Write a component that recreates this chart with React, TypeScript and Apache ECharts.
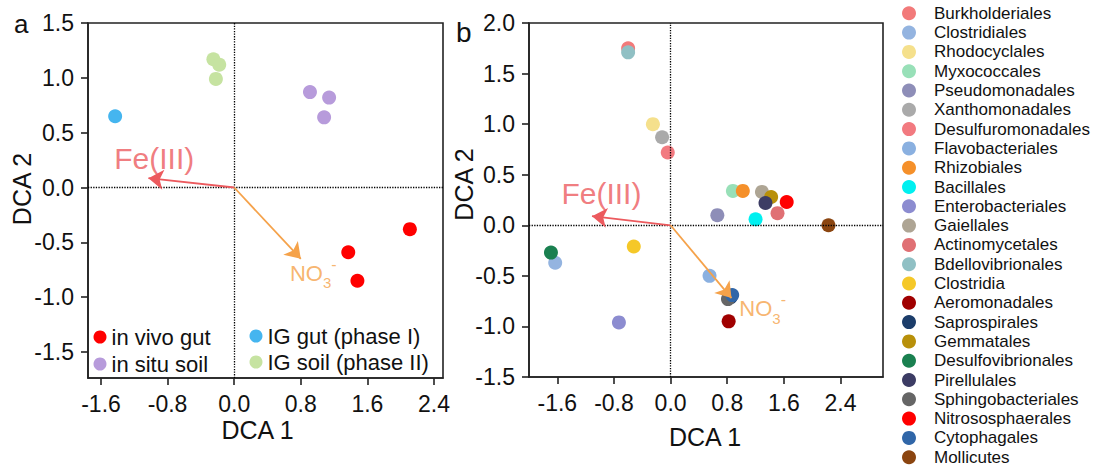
import { useEffect, useRef } from 'react';
import * as echarts from 'echarts';

const FONT = "'Liberation Sans', Arial, Helvetica, sans-serif";
const INK = '#111111';
const AXIS = '#222222';
const FE_COLOR = '#ec5a5e';
const NO_COLOR = '#f5a24a';

// ---------- Panel a ----------
const groupNamesA = ['in vivo gut', 'in situ soil', 'IG gut (phase I)', 'IG soil (phase II)'];
const groupColorsA = ['#ff0000', '#b79bdb', '#45b5ef', '#c6e3a1'];
const inVivoGut = [[2.11, -0.38], [1.37, -0.59], [1.48, -0.85]];
const inSituSoil = [[0.91, 0.87], [1.14, 0.82], [1.08, 0.64]];
const igGut = [[-1.43, 0.65]];
const igSoil = [[-0.25, 1.17], [-0.18, 1.12], [-0.22, 0.99]];
const groupDataA = [inVivoGut, inSituSoil, igGut, igSoil];
const xTicksA = [-1.6, -0.8, 0, 0.8, 1.6, 2.4];
const yTicksA = [-1.5, -1, -0.5, 0, 0.5, 1, 1.5];
const xRangeA = [-1.756, 2.508];
const yRangeA = [-1.737, 1.5];
const arrowFeA = [-1.03, 0.085];
const arrowNoA = [0.8, -0.65];
const labelFeA = [-0.96, 0.265];
const labelNoA = [0.95, -0.78];

// ---------- Panel b ----------
const ordersB = [
  'Burkholderiales', 'Clostridiales', 'Rhodocyclales', 'Myxococcales', 'Pseudomonadales',
  'Xanthomonadales', 'Desulfuromonadales', 'Flavobacteriales', 'Rhizobiales', 'Bacillales',
  'Enterobacteriales', 'Gaiellales', 'Actinomycetales', 'Bdellovibrionales', 'Clostridia',
  'Aeromonadales', 'Saprospirales', 'Gemmatales', 'Desulfovibrionales', 'Pirellulales',
  'Sphingobacteriales', 'Nitrososphaerales', 'Cytophagales', 'Mollicutes',
];
const orderColorsB = [
  '#f27a7a', '#94b4e0', '#f5e08c', '#98e0b8', '#8e8eb8',
  '#aaaaaa', '#f27a80', '#8ab0e0', '#f5902a', '#00f0f0',
  '#8c8cd0', '#aea594', '#e07074', '#90c0c4', '#f5c828',
  '#a00000', '#1c3d6a', '#b8900a', '#1a8050', '#3c3c64',
  '#666666', '#ff0000', '#3066a8', '#8b4510',
];
const orderXB = [
  -0.6, -1.63, -0.25, 0.88, 0.66,
  -0.12, -0.04, 0.55, 1.02, 1.2,
  -0.73, 1.29, 1.51, -0.6, -0.52,
  0.82, 0.85, 1.42, -1.69, 1.34,
  0.81, 1.64, 0.87, 2.23,
];
const orderYB = [
  1.75, -0.37, 1.0, 0.34, 0.1,
  0.87, 0.72, -0.5, 0.34, 0.06,
  -0.96, 0.33, 0.12, 1.71, -0.21,
  -0.95, -0.71, 0.28, -0.27, 0.22,
  -0.73, 0.23, -0.69, 0.0,
];
const xTicksB = [-1.6, -0.8, 0, 0.8, 1.6, 2.4];
const yTicksB = [-1.5, -1, -0.5, 0, 0.5, 1, 1.5, 2];
const xRangeB = [-2, 3];
const yRangeB = [-1.5, 2];
const arrowFeB = [-1.11, 0.09];
const arrowNoB = [0.86, -0.72];
const labelFeB = [-0.977, 0.31];
const labelNoB = [1.3, -0.825];

function makeXAxis(gridIndex: number, range: number[], ticks: number[]) {
  return {
    type: 'value', gridIndex, min: range[0], max: range[1],
    axisLine: { show: true, onZero: false, lineStyle: { color: AXIS, width: 1.6 } },
    axisTick: { show: true, length: 7, customValues: ticks, lineStyle: { color: AXIS, width: 1.6 } },
    axisLabel: {
      show: true, customValues: ticks, margin: 14, fontSize: 23, fontFamily: FONT, color: INK,
      formatter: (v: number) => v.toFixed(1),
    },
    splitLine: { show: false },
  };
}
function makeYAxis(gridIndex: number, range: number[], ticks: number[]) {
  return {
    type: 'value', gridIndex, min: range[0], max: range[1],
    axisLine: { show: true, onZero: false, lineStyle: { color: AXIS, width: 1.6 } },
    axisTick: { show: true, length: 7, customValues: ticks, lineStyle: { color: AXIS, width: 1.6 } },
    axisLabel: {
      show: true, customValues: ticks, margin: 14, fontSize: 23, fontFamily: FONT, color: INK,
      formatter: (v: number) => v.toFixed(1),
    },
    splitLine: { show: false },
  };
}

function zeroLines(idx: number) {
  return {
    type: 'scatter', name: 'zero' + idx, xAxisIndex: idx, yAxisIndex: idx, data: [], z: 1, silent: true,
    markLine: {
      silent: true, symbol: ['none', 'none'], label: { show: false },
      lineStyle: { type: 'dotted', color: '#000', width: 1.3 },
      data: [{ xAxis: 0 }, { yAxis: 0 }],
    },
  };
}

function arrows(idx: number, fe: number[], no: number[]) {
  return {
    type: 'lines', coordinateSystem: 'cartesian2d', xAxisIndex: idx, yAxisIndex: idx, z: 5, silent: true,
    symbol: ['none', 'arrow'], symbolSize: 15,
    lineStyle: { width: 1.8, opacity: 1, curveness: 0 },
    data: [
      { coords: [[0, 0], fe], lineStyle: { color: FE_COLOR } },
      { coords: [[0, 0], no], lineStyle: { color: NO_COLOR } },
    ],
  };
}

function labels(idx: number, fePos: number[], noPos: number[], noSize: number) {
  return [
    {
      type: 'scatter', name: 'feLabel' + idx, xAxisIndex: idx, yAxisIndex: idx, symbolSize: 0, z: 6, silent: true,
      data: [fePos],
      label: { show: true, position: 'inside', formatter: 'Fe(III)', fontSize: 30, fontFamily: FONT, color: FE_COLOR },
    },
    {
      type: 'scatter', name: 'noLabel' + idx, xAxisIndex: idx, yAxisIndex: idx, symbolSize: 0, z: 6, silent: true,
      data: [noPos],
      label: {
        show: true, position: 'inside', formatter: '{n|NO}{s|3}{p|-}',
        rich: {
          n: { fontSize: noSize, lineHeight: 34, fontFamily: FONT, color: NO_COLOR },
          s: { fontSize: 15, lineHeight: 15, verticalAlign: 'bottom', fontFamily: FONT, color: NO_COLOR },
          p: { fontSize: 16, lineHeight: 26, verticalAlign: 'top', fontFamily: FONT, color: NO_COLOR },
        },
      },
    },
  ];
}

export default function App() {
  const ref = useRef<HTMLDivElement>(null);
  useEffect(() => {
    if (!ref.current) return;
    const chart = echarts.init(ref.current, undefined, { renderer: 'svg' });

    const seriesA = groupNamesA.map((name, i) => ({
      type: 'scatter', name, xAxisIndex: 0, yAxisIndex: 0, z: 3,
      symbol: 'circle', symbolSize: 14,
      itemStyle: { color: groupColorsA[i], opacity: 1 },
      data: groupDataA[i],
    }));
    const seriesB = ordersB.map((name, i) => ({
      type: 'scatter', name, xAxisIndex: 1, yAxisIndex: 1, z: 3,
      symbol: 'circle', symbolSize: 14,
      itemStyle: { color: orderColorsB[i], opacity: 1 },
      data: [[orderXB[i], orderYB[i]]],
    }));

    const option: any = {
      animation: false,
      backgroundColor: '#ffffff',
      textStyle: { fontFamily: FONT },
      grid: [
        { left: 88, top: 23, width: 355, height: 355, show: true, borderColor: AXIS, borderWidth: 1.6, backgroundColor: 'transparent' },
        { left: 529, top: 23, width: 354, height: 354, show: true, borderColor: AXIS, borderWidth: 1.6, backgroundColor: 'transparent' },
      ],
      xAxis: [makeXAxis(0, xRangeA, xTicksA), makeXAxis(1, xRangeB, xTicksB)],
      yAxis: [makeYAxis(0, yRangeA, yTicksA), makeYAxis(1, yRangeB, yTicksB)],
      legend: [
        {
          data: groupNamesA.slice(0, 2), orient: 'vertical', left: 93.5, top: 326, padding: 0,
          icon: 'circle', itemWidth: 13, itemHeight: 13, itemGap: 5, selectedMode: false,
          textStyle: { fontSize: 22, fontFamily: FONT, color: INK },
        },
        {
          data: groupNamesA.slice(2, 4), orient: 'vertical', left: 249.5, top: 325, padding: 0,
          icon: 'circle', itemWidth: 13, itemHeight: 13, itemGap: 4, selectedMode: false,
          textStyle: { fontSize: 22, fontFamily: FONT, color: INK },
        },
        {
          data: ordersB, orient: 'vertical', left: 902, top: 4.8, padding: 0,
          icon: 'circle', itemWidth: 14, itemHeight: 14, itemGap: 2.3, selectedMode: false,
          textStyle: { fontSize: 17, fontFamily: FONT, color: INK, padding: [0, 0, 0, 13] },
        },
      ],
      graphic: [
        { type: 'text', x: 14, y: 24, style: { text: 'a', font: `26px ${FONT}`, fill: INK, align: 'left', verticalAlign: 'middle' } },
        { type: 'text', x: 456, y: 32, style: { text: 'b', font: `28px ${FONT}`, fill: INK, align: 'left', verticalAlign: 'middle' } },
        { type: 'text', x: 257.5, y: 430, style: { text: 'DCA 1', font: `25px ${FONT}`, fill: INK, align: 'center', verticalAlign: 'middle' } },
        { type: 'text', x: 705, y: 437, style: { text: 'DCA 1', font: `25px ${FONT}`, fill: INK, align: 'center', verticalAlign: 'middle' } },
        { type: 'text', x: 22, y: 189, rotation: Math.PI / 2, style: { text: 'DCA 2', font: `25px ${FONT}`, fill: INK, align: 'center', verticalAlign: 'middle' } },
        { type: 'text', x: 464, y: 184.5, rotation: Math.PI / 2, style: { text: 'DCA 2', font: `25px ${FONT}`, fill: INK, align: 'center', verticalAlign: 'middle' } },
      ],
      series: [
        zeroLines(0),
        zeroLines(1),
        ...seriesA,
        ...seriesB,
        arrows(0, arrowFeA, arrowNoA),
        arrows(1, arrowFeB, arrowNoB),
        ...labels(0, labelFeA, labelNoA, 22),
        ...labels(1, labelFeB, labelNoB, 22),
      ],
    };
    chart.setOption(option);
    return () => chart.dispose();
  }, []);
  return <div ref={ref} style={{ position: 'fixed', left: 0, top: 0, width: 1099, height: 472, background: '#fff' }} />;
}
